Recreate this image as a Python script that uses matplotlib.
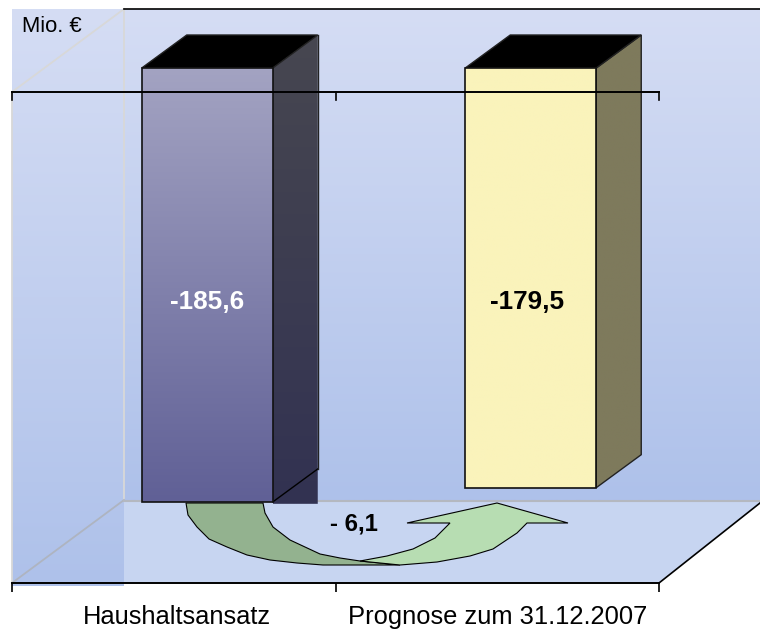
#!/usr/bin/env python3
import numpy as np
import matplotlib; matplotlib.use("Agg")
import matplotlib.pyplot as plt
from matplotlib.colors import LinearSegmentedColormap as LSC
from matplotlib.patches import Polygon
from matplotlib.transforms import ScaledTranslation

categories = ["Haushaltsansatz", "Prognose zum 31.12.2007"]
values = [-185.6, -179.5]
value_labels = ["-185,6", "-179,5"]
diff_label = "- 6,1"
unit_label = "Mio. €"

W, H = 760, 633
plt.rcParams["font.family"] = ["Liberation Sans", "DejaVu Sans"]
fig = plt.figure(figsize=(W/100, H/100), dpi=100, facecolor="white")

# background scene in pixel coords
bg = fig.add_axes([0, 0, 1, 1], zorder=0); bg.set_xlim(0, W); bg.set_ylim(H, 0); bg.axis("off")
def grad(a, top, bottom, ext, clip=None, z=1):
    cm = LSC.from_list("g", [np.array(top)/255, np.array(bottom)/255])
    im = a.imshow(np.linspace(0, 1, 256)[:, None], cmap=cm, aspect="auto", extent=ext, zorder=z, interpolation="bilinear")
    if clip is not None:
        # images stay inside the axes box unless told otherwise
        im.set_clip_box(fig.bbox); im.set_clip_path(clip)
    return im
grad(bg, (213, 221, 244), (174, 193, 234), (124, 760, 500, 9))
bg.add_patch(Polygon([(124, 500), (760, 500), (760, 503), (659, 583), (12, 583)], fc="#c7d5f1", ec="none", zorder=2))
grad(bg, (213, 221, 244), (174, 193, 234), (12, 124, 586, 9), z=3)
grey = "#d8d8d8"
for xs, ys in [((12, 124), (92, 9)), ((124, 124), (9, 500)), ((12, 12), (92, 583))]:
    bg.plot(xs, ys, color=grey, lw=1.3, zorder=4)
bg.plot((12, 124), (583, 500), color="#aeb4c0", lw=1.3, zorder=4)
bg.plot((124, 760), (500.5, 500.5), color="#b4b8c0", lw=1.5, zorder=4)
bg.plot((124, 760), (9, 9), color="black", lw=1.2, zorder=4)
bg.plot((659, 760), (583, 503), color="black", lw=1.2, zorder=4)

# u-turn arrow, dark part then light part
dark = [(186, 503), (188, 515), (197, 527), (209, 539), (227, 547), (247, 555), (270, 560), (297, 563), (323, 565),
        (360, 565), (400, 565), (360, 561), (340, 558), (320, 554), (290, 540), (273, 527), (265, 513), (263, 503)]
light = [(360, 561), (387, 556), (413, 549), (435, 538), (450, 523), (407, 523), (497, 503), (568, 523), (527, 523),
         (517, 533), (493, 549), (470, 556), (437, 562), (400, 565)]
bg.add_patch(Polygon(dark, fc="#93b28f", ec="black", lw=0.8, zorder=5))
bg.add_patch(Polygon(light, fc="#b7ddb2", ec="black", lw=0.8, zorder=5))
bg.set_xlim(0, W); bg.set_ylim(H, 0)

# chart axes: front plane of the 3D box
ax = fig.add_axes([12/W, (H-583)/H, 647/W, 491/H], zorder=1)
ax.patch.set_alpha(0)
x = np.arange(len(categories))
# bars stand further back in the box than the front plane
shift = ax.transData + ScaledTranslation(33.5/100, 24/100, fig.dpi_scale_trans)
bw = 131/323.5; dx = 45/323.5; dy = 33/(491/210)
label_y = -100
label_dx = [0, -0.012]
styles = [((163, 163, 194), (96, 96, 150), (71, 71, 80), (50, 50, 82)),
          ((250, 243, 187), (250, 243, 187), (126, 122, 92), (126, 122, 92))]
for xi, v, lab, (ft, fb, st, sb) in zip(x, values, value_labels, styles):
    l, r = xi-bw/2, xi+bw/2
    # side face; the first bar's runs on to the floor line
    low = v-0.8 if xi == 0 else v
    pts = [(r, 0), (r+dx, dy), (r+dx, low), (r, low)] if xi == 0 else [(r, 0), (r+dx, dy), (r+dx, v+dy), (r, v)]
    side = Polygon(pts, transform=shift, fc="none", ec="#222222" if xi else "none", lw=1, zorder=4, clip_on=False)
    ax.add_patch(side)
    grad(ax, st, sb, (r, r+dx, low, dy), side, z=3).set_transform(shift)
    if xi == 0:
        ax.plot([r, r+dx], [v, v+dy], transform=shift, color="black", lw=1, zorder=5, clip_on=False)
        ax.plot([r+dx, r+dx], [dy, v+dy], transform=shift, color="#222222", lw=1, zorder=5, clip_on=False)
    ax.add_patch(Polygon([(l, 0), (l+dx, dy), (r+dx, dy), (r, 0)], transform=shift, fc="black", ec="#222222", lw=1, zorder=4, clip_on=False))
    bar = ax.bar(xi, v, bw, transform=shift, fc="none", ec="#111111", lw=1.2, zorder=6, clip_on=False)[0]
    grad(ax, ft, fb, (l, r, v, 0), bar, z=5).set_transform(shift)
    ax.text(xi+label_dx[xi], label_y, lab, transform=shift, ha="center", va="center", fontsize=18.8, fontweight="bold",
            color="white" if xi == 0 else "black", zorder=8)
ax.set_xlim(-0.5, 1.5); ax.set_ylim(-210, 0)

# axes lines: top at zero, bottom with category labels
ax.set_yticks([])
for s in ("left", "right"): ax.spines[s].set_visible(False)
for s in ("top", "bottom"): ax.spines[s].set_linewidth(1.4); ax.spines[s].set_zorder(7)
ax.set_xticks([-0.5, 0.5, 1.5]); ax.set_xticklabels([])
ax.tick_params(axis="x", length=6.5, width=1.2, top=False, bottom=True, pad=0)
ax.set_xticks([0.01, 1], minor=True); ax.set_xticklabels(categories, minor=True, fontsize=18.4, color="black")
ax.tick_params(axis="x", which="minor", length=0, pad=16)
for t in (-0.5, 0.5, 1.5):
    ax.plot([t, t], [0, -3.4], color="black", lw=1.2, zorder=7, clip_on=False)

fig.text(22/W, 1-27/H, unit_label, fontsize=15.8, va="center", ha="left")
fig.text(354/W, 1-524/H, diff_label, fontsize=17.3, fontweight="bold", va="center", ha="center", zorder=9)
fig.savefig("out.png", dpi=100)
